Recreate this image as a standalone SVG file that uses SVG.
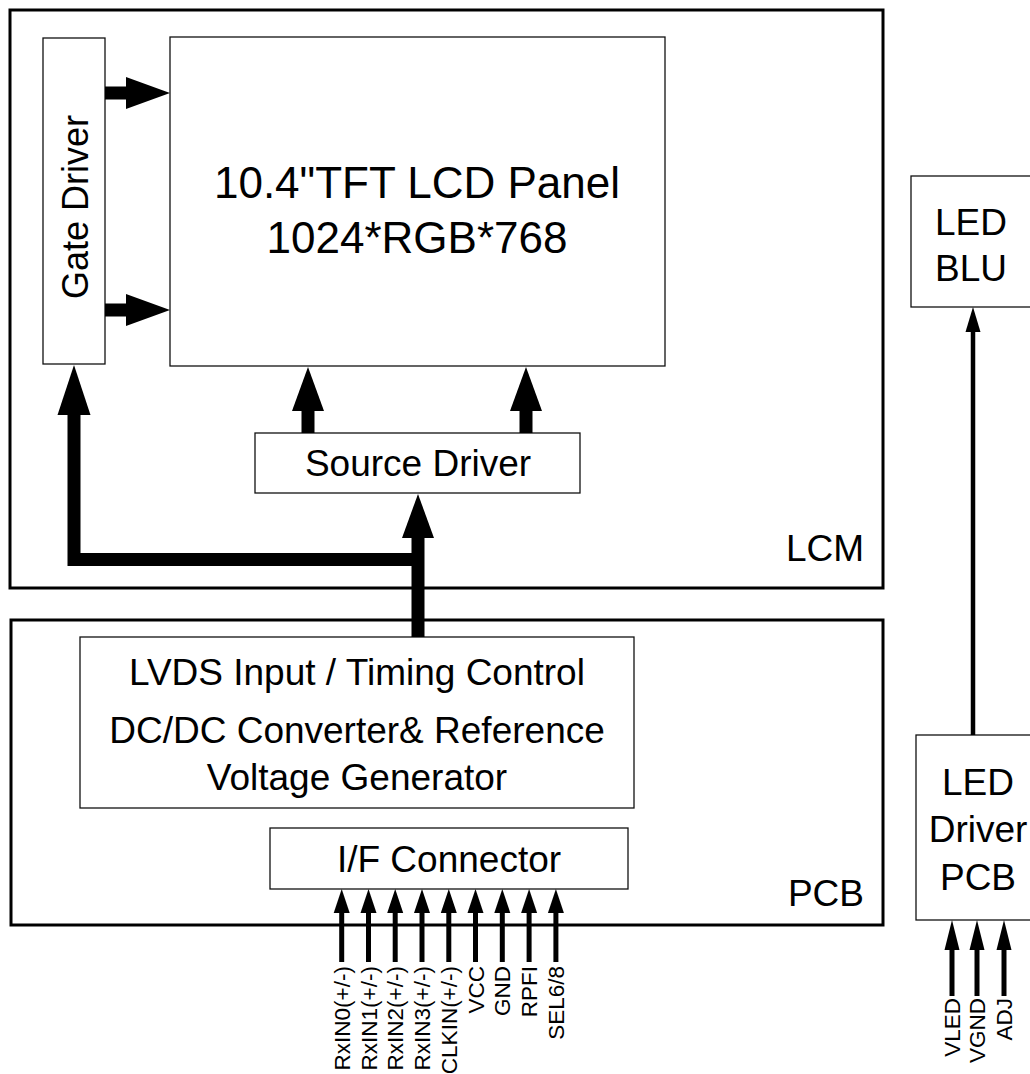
<svg xmlns="http://www.w3.org/2000/svg" width="1030" height="1074" viewBox="0 0 1030 1074">
<style>
.frame{fill:none;stroke:#000;stroke-width:3}
.box{fill:#fff;stroke:#111;stroke-width:1.3}
.t{font-family:"Liberation Sans",Arial,sans-serif;fill:#000}
.big{font-size:44px}
.m{font-size:37px}
.s{font-size:22.5px}
.bus{fill:none;stroke:#000;stroke-width:13;stroke-linejoin:miter}
.thin{stroke:#000;stroke-width:5}
.hd{fill:#000}
</style>
<rect width="1030" height="1074" fill="#fff"/>
<g id="lcm"><rect class="frame" x="10" y="10" width="873" height="578"/><text class="t m" x="864" y="561" text-anchor="end">LCM</text></g>
<g id="pcb"><rect class="frame" x="11" y="620" width="872" height="305"/><text class="t m" x="864" y="906" text-anchor="end">PCB</text></g>
<g id="gate-driver"><rect class="box" x="43" y="38" width="62" height="326"/><text class="t" font-size="36" transform="translate(88,207) rotate(-90)" text-anchor="middle">Gate Driver</text></g>
<g id="panel"><rect class="box" x="170" y="37" width="495" height="329"/><text class="t big" x="417" y="198" text-anchor="middle">10.4"TFT LCD Panel</text><text class="t big" x="417" y="253" text-anchor="middle">1024*RGB*768</text></g>
<g id="source-driver"><rect class="box" x="255" y="433" width="325" height="60"/><text class="t m" x="418" y="476" text-anchor="middle">Source Driver</text></g>
<g id="lvds"><rect class="box" x="80" y="637" width="554" height="171"/><text class="t m" x="357" y="685" text-anchor="middle">LVDS Input / Timing Control</text><text class="t m" x="357" y="743" text-anchor="middle">DC/DC Converter&amp; Reference</text><text class="t m" x="357" y="790" text-anchor="middle">Voltage Generator</text></g>
<g id="if-connector"><rect class="box" x="270" y="828" width="358" height="61"/><text class="t m" x="449" y="872" text-anchor="middle">I/F Connector</text></g>
<g id="led-blu"><rect class="box" x="911" y="176" width="122" height="131"/><text class="t m" x="971" y="235" text-anchor="middle">LED</text><text class="t m" x="971" y="281" text-anchor="middle">BLU</text></g>
<g id="led-driver"><rect class="box" x="916" y="735" width="122" height="185"/><text class="t m" x="978" y="795" text-anchor="middle">LED</text><text class="t m" x="978" y="842" text-anchor="middle">Driver</text><text class="t m" x="978" y="890" text-anchor="middle">PCB</text></g>
<g id="connectors">
<rect class="hd" x="105" y="86.5" width="22" height="13"/><polygon class="hd" points="126,77 170,93 126,109"/>
<rect class="hd" x="105" y="303.5" width="22" height="13"/><polygon class="hd" points="126,294 170,310 126,326"/>
<rect class="hd" x="301.5" y="410" width="13" height="23"/><polygon class="hd" points="292,411 308,367 324,411"/>
<rect class="hd" x="519.5" y="410" width="13" height="23"/><polygon class="hd" points="510,411 526,367 542,411"/>
<path class="bus" d="M418,637 V537"/><polygon class="hd" points="402,538 418,494 434,538"/>
<path class="bus" d="M418,559.5 H74 V414"/><polygon class="hd" points="57.5,415 74,365 90.5,415"/>
<line class="thin" x1="341.7" y1="962" x2="341.7" y2="912"/><polygon class="hd" points="333.7,913 341.7,889 349.7,913"/>
<line class="thin" x1="368.5" y1="962" x2="368.5" y2="912"/><polygon class="hd" points="360.5,913 368.5,889 376.5,913"/>
<line class="thin" x1="395.2" y1="962" x2="395.2" y2="912"/><polygon class="hd" points="387.2,913 395.2,889 403.2,913"/>
<line class="thin" x1="422" y1="962" x2="422" y2="912"/><polygon class="hd" points="414,913 422,889 430,913"/>
<line class="thin" x1="448.8" y1="962" x2="448.8" y2="912"/><polygon class="hd" points="440.8,913 448.8,889 456.8,913"/>
<line class="thin" x1="475.5" y1="962" x2="475.5" y2="912"/><polygon class="hd" points="467.5,913 475.5,889 483.5,913"/>
<line class="thin" x1="502.3" y1="962" x2="502.3" y2="912"/><polygon class="hd" points="494.3,913 502.3,889 510.3,913"/>
<line class="thin" x1="529.1" y1="962" x2="529.1" y2="912"/><polygon class="hd" points="521.1,913 529.1,889 537.1,913"/>
<line class="thin" x1="555.9" y1="962" x2="555.9" y2="912"/><polygon class="hd" points="547.9,913 555.9,889 563.9,913"/>
<line class="thin" x1="952" y1="996" x2="952" y2="949"/><polygon class="hd" points="944.5,950 952,920 959.5,950"/>
<line class="thin" x1="977" y1="996" x2="977" y2="949"/><polygon class="hd" points="969.5,950 977,920 984.5,950"/>
<line class="thin" x1="1004" y1="996" x2="1004" y2="949"/><polygon class="hd" points="996.5,950 1004,920 1011.5,950"/>
<line stroke="#000" stroke-width="4.5" x1="973" y1="735" x2="973" y2="330"/><polygon class="hd" points="965.5,332 973,307 980.5,332"/>
</g>
<g id="labels">
<text class="t s" text-anchor="end" transform="translate(349.7,966) rotate(-90)">RxIN0(+/-)</text>
<text class="t s" text-anchor="end" transform="translate(376.5,966) rotate(-90)">RxIN1(+/-)</text>
<text class="t s" text-anchor="end" transform="translate(403.2,966) rotate(-90)">RxIN2(+/-)</text>
<text class="t s" text-anchor="end" transform="translate(430,966) rotate(-90)">RxIN3(+/-)</text>
<text class="t s" text-anchor="end" transform="translate(456.8,966) rotate(-90)">CLKIN(+/-)</text>
<text class="t s" text-anchor="end" transform="translate(483.5,966) rotate(-90)">VCC</text>
<text class="t s" text-anchor="end" transform="translate(510.3,966) rotate(-90)">GND</text>
<text class="t s" text-anchor="end" transform="translate(537.1,966) rotate(-90)">RPFI</text>
<text class="t s" text-anchor="end" transform="translate(563.9,966) rotate(-90)">SEL6/8</text>
<text class="t s" text-anchor="end" transform="translate(960,998) rotate(-90)">VLED</text>
<text class="t s" text-anchor="end" transform="translate(985,998) rotate(-90)">VGND</text>
<text class="t s" text-anchor="end" transform="translate(1012,998) rotate(-90)">ADJ</text>
</g>
</svg>
